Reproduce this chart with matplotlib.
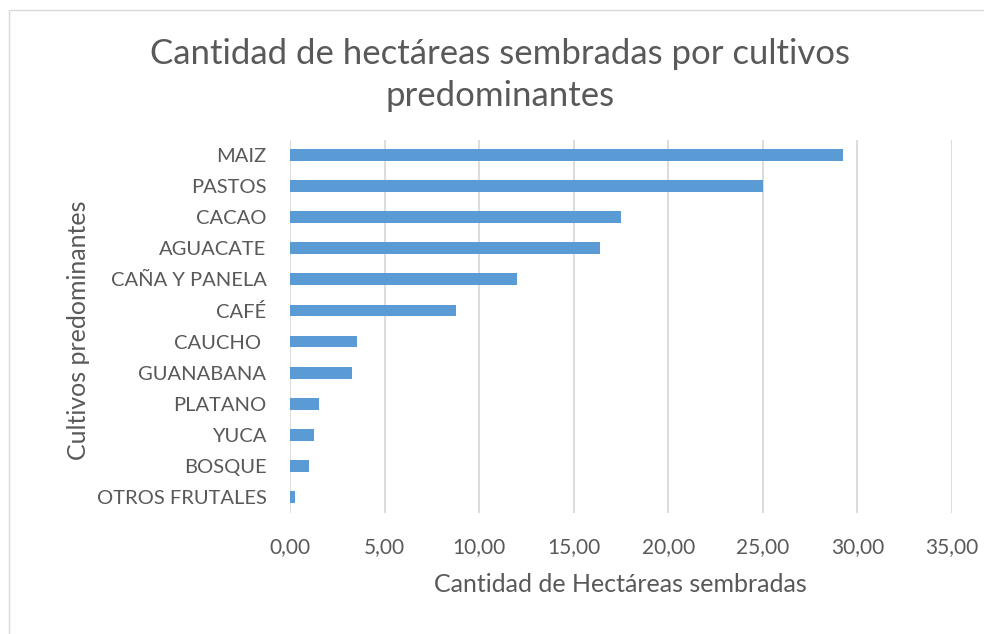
import matplotlib
matplotlib.use("Agg")
import matplotlib.pyplot as plt
from matplotlib.patches import Rectangle
from matplotlib.ticker import FuncFormatter

cultivos = ["MAIZ", "PASTOS", "CACAO", "AGUACATE", "CAÑA Y PANELA", "CAFÉ",
            "CAUCHO ", "GUANABANA", "PLATANO", "YUCA", "BOSQUE", "OTROS FRUTALES"]
hectareas = [29.24, 25.0, 17.5, 16.37, 12.0, 8.77, 3.53, 3.27, 1.52, 1.27, 1.0, 0.26]
x_ticks = [0, 5, 10, 15, 20, 25, 30, 35]

bar_color = "#5B9BD5"
text_color = "#595959"
grid_color = "#D9D9D9"

plt.rcParams['font.family'] = ['Lato', 'DejaVu Sans']

W, H = 984, 634
fig = plt.figure(figsize=(W / 100, H / 100), dpi=100)
# light frame of the chart area (right and bottom edges fall outside the picture)
fig.patches.append(Rectangle((9 / W, -0.1), 1.2, 1.1 - 10 / H,
                             transform=fig.transFigure, fill=False,
                             edgecolor="#D9D9D9", linewidth=1.0))

ax = fig.add_axes([290 / W, 1 - 512.5 / H, 662 / W, 373 / H])

y = list(range(len(cultivos)))
ax.barh(y, hectareas, height=0.38, color=bar_color, zorder=3)
ax.set_ylim(len(cultivos) - 0.5, -0.5)
ax.set_xlim(0, 35)

ax.set_yticks(y)
ax.set_yticklabels(cultivos, fontsize=14.5, color=text_color)
ax.set_xticks(x_ticks)
ax.xaxis.set_major_formatter(FuncFormatter(lambda v, p: f"{v:.2f}".replace(".", ",")))
ax.tick_params(axis="x", length=0, pad=18, labelsize=15, labelcolor=text_color)
ax.tick_params(axis="y", length=0, pad=17)

ax.grid(axis="x", color=grid_color, linewidth=1.3, zorder=0)
for s in ax.spines.values():
    s.set_visible(False)

fig.text(620 / W, 1 - 585 / H, "Cantidad de Hectáreas sembradas",
         ha="center", va="center", fontsize=18, color=text_color)
fig.text(78 / W, 1 - 330 / H, "Cultivos predominantes", rotation=90,
         ha="center", va="center", fontsize=18, color=text_color)

fig.text(500 / W, 1 - 75 / H, "Cantidad de hectáreas sembradas por cultivos\npredominantes",
         ha="center", va="center", fontsize=25, color=text_color, linespacing=1.4)

fig.savefig("out.png", dpi=100)
